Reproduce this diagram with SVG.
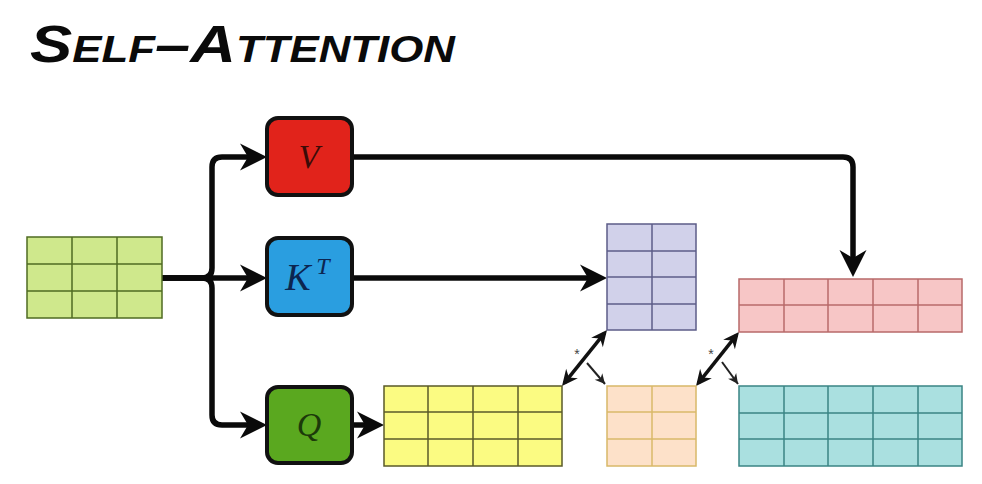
<svg xmlns="http://www.w3.org/2000/svg" width="982" height="484" viewBox="0 0 982 484">
<style>
.conn{fill:none;stroke:#0a0a0a;stroke-width:5.5;stroke-linejoin:round}
.thin{fill:none;stroke:#111;stroke-width:3.5}
.hair{fill:none;stroke:#222;stroke-width:2}
.box{stroke:#111;stroke-width:4}
.lbl{font-family:"Liberation Serif","DejaVu Serif",serif;font-style:italic;text-anchor:middle}
.star{font-family:"Liberation Sans",sans-serif;font-size:14px;fill:#444;text-anchor:middle}
.g line{stroke-width:1.5}
</style>
<defs>
<marker id="big" markerUnits="userSpaceOnUse" viewBox="-30 -15 32 30" refX="-10" refY="0" markerWidth="32" markerHeight="30" orient="auto">
<path d="M-27,-13.5 L0,0 L-27,13.5 L-19,0 Z" fill="#0a0a0a"/>
</marker>
<marker id="mid" markerUnits="userSpaceOnUse" viewBox="-18 -9 20 18" refX="-4" refY="0" markerWidth="20" markerHeight="18" orient="auto-start-reverse">
<path d="M-16,-7.5 L0,0 L-16,7.5 L-11,0 Z" fill="#111"/>
</marker>
<marker id="sm" markerUnits="userSpaceOnUse" viewBox="-12 -7 14 14" refX="0" refY="0" markerWidth="14" markerHeight="14" orient="auto">
<path d="M-10,-5 L0,0 L-10,5 L-7,0 Z" fill="#222"/>
</marker>
</defs>
<rect width="982" height="484" fill="#fff"/>

<g id="title">
<text x="30" y="62" font-family="Liberation Sans, Arial, sans-serif" font-weight="900" font-style="italic" font-size="52" font-variant="small-caps" textLength="425" lengthAdjust="spacingAndGlyphs" fill="#0a0a0a">Self–Attention</text>
</g>

<g id="connectors">
<path class="conn" d="M162,278 H202 Q212,278 212,268 V167 Q212,157 222,157 H257" marker-end="url(#big)"/>
<path class="conn" d="M162,278 H202 Q212,278 212,288 V415 Q212,425 222,425 H257" marker-end="url(#big)"/>
<path class="conn" d="M162,278 H257" marker-end="url(#big)"/>
<path class="conn" d="M352,157 H843 Q853,157 853,167 V267" marker-end="url(#big)"/>
<path class="conn" d="M352,278 H597" marker-end="url(#big)"/>
<path class="conn" d="M352,425 H374" marker-end="url(#big)"/>
<path class="thin" d="M564.5,382.9 L604.5,333.1" marker-start="url(#mid)" marker-end="url(#mid)"/>
<path class="hair" d="M587,363 L605,384" marker-end="url(#sm)"/>
<path class="thin" d="M698.5,382.9 L736.5,335.1" marker-start="url(#mid)" marker-end="url(#mid)"/>
<path class="hair" d="M722,362 L738,384" marker-end="url(#sm)"/>
<text class="star" x="577" y="359">*</text>
<text class="star" x="711" y="359">*</text>
</g>

<g id="input" class="g" stroke="#4f6b22">
<rect x="27" y="237" width="135" height="81" fill="#cfe88c" stroke-width="1.5"/>
<line x1="72" y1="237" x2="72" y2="318"/><line x1="117" y1="237" x2="117" y2="318"/>
<line x1="27" y1="264" x2="162" y2="264"/><line x1="27" y1="291" x2="162" y2="291"/>
</g>

<g id="V">
<rect class="box" x="267" y="118" width="85" height="77" rx="11" fill="#e1231b"/>
<text class="lbl" x="309" y="168" font-size="34" fill="#3a0c08">V</text>
</g>
<g id="KT">
<rect class="box" x="267" y="238" width="85" height="77" rx="11" fill="#2a9ee0"/>
<text class="lbl" x="298" y="290" font-size="38" fill="#0c2550">K</text>
<text class="lbl" x="323" y="274" font-size="24" fill="#0c2550">T</text>
</g>
<g id="Q">
<rect class="box" x="267" y="387" width="85" height="76" rx="11" fill="#5aa81f"/>
<text class="lbl" x="309" y="436" font-size="34" fill="#1c3a0a">Q</text>
</g>

<g id="keys" class="g" stroke="#5c5c88">
<rect x="607" y="224" width="89" height="106" fill="#d1d1ea" stroke-width="1.5"/>
<line x1="652" y1="224" x2="652" y2="330"/>
<line x1="607" y1="251" x2="696" y2="251"/><line x1="607" y1="277" x2="696" y2="277"/><line x1="607" y1="304" x2="696" y2="304"/>
</g>

<g id="queries" class="g" stroke="#5a5a28">
<rect x="384" y="386" width="178" height="80" fill="#fbfb82" stroke-width="1.5"/>
<line x1="428" y1="386" x2="428" y2="466"/><line x1="473" y1="386" x2="473" y2="466"/><line x1="518" y1="386" x2="518" y2="466"/>
<line x1="384" y1="412" x2="562" y2="412"/><line x1="384" y1="439" x2="562" y2="439"/>
</g>

<g id="scores" class="g" stroke="#d8b868">
<rect x="607" y="386" width="89" height="80" fill="#fde1c9" stroke-width="1.5"/>
<line x1="652" y1="386" x2="652" y2="466"/>
<line x1="607" y1="412" x2="696" y2="412"/><line x1="607" y1="439" x2="696" y2="439"/>
</g>

<g id="values" class="g" stroke="#b86a6a">
<rect x="739" y="279" width="223" height="53" fill="#f7c6c6" stroke-width="1.5"/>
<line x1="784" y1="279" x2="784" y2="332"/><line x1="828" y1="279" x2="828" y2="332"/><line x1="873" y1="279" x2="873" y2="332"/><line x1="918" y1="279" x2="918" y2="332"/>
<line x1="739" y1="305" x2="962" y2="305"/>
</g>

<g id="output" class="g" stroke="#3a8484">
<rect x="739" y="386" width="223" height="80" fill="#aae0e0" stroke-width="1.5"/>
<line x1="784" y1="386" x2="784" y2="466"/><line x1="828" y1="386" x2="828" y2="466"/><line x1="873" y1="386" x2="873" y2="466"/><line x1="918" y1="386" x2="918" y2="466"/>
<line x1="739" y1="413" x2="962" y2="413"/><line x1="739" y1="439" x2="962" y2="439"/>
</g>
</svg>
